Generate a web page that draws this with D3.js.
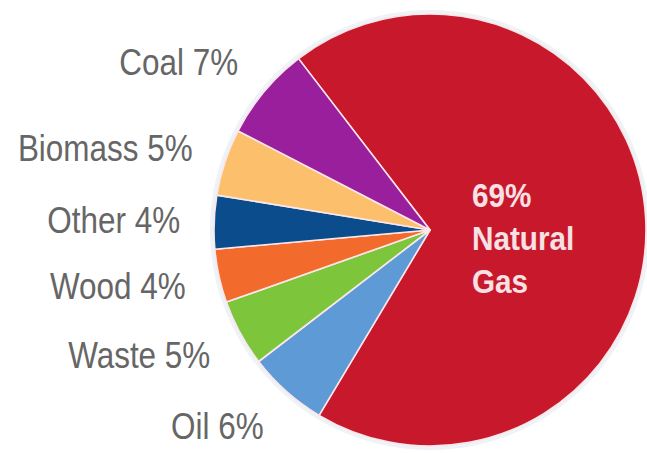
<!DOCTYPE html>
<html>
<head>
<meta charset="utf-8">
<script src="https://cdn.jsdelivr.net/npm/d3@7"></script>
<style>
  html, body { margin: 0; padding: 0; background: #ffffff; }
  svg { display: block; }
  .lbl { font-family: "Liberation Sans", Arial, "Noto Sans", sans-serif; }
</style>
</head>
<body>
<svg id="chart" width="647" height="453"></svg>
<script>
// Energy sources by share (%), listed clockwise starting with the largest slice
const categories = ["Natural Gas", "Oil", "Waste", "Wood", "Other", "Biomass", "Coal"];
const shares     = [69, 6, 5, 4, 4, 5, 7];
const colors     = ["#c8192c", "#5d9ad6", "#7dc63c", "#f26b2d", "#0b4d8c", "#fcbf6b", "#9a1f9c"];

const width = 647, height = 453;
const cx = 430, cy = 230, radius = 216;
const startDeg = -37.5;
const narrow = 0.85;   // horizontal condensing of the label type

const data = categories.map((c, i) => ({ category: c, share: shares[i], color: colors[i] }));

const svg = d3.select("#chart");
const g = svg.append("g").attr("transform", `translate(${cx},${cy})`);

const pie = d3.pie()
  .sort(null)
  .value(d => d.share)
  .startAngle(startDeg * Math.PI / 180)
  .endAngle(startDeg * Math.PI / 180 + 2 * Math.PI);

const arcs = pie(data);
const arc = d3.arc().innerRadius(0).outerRadius(radius);

// soft halo around the disc
g.append("circle")
  .attr("r", radius + 2)
  .attr("fill", "none")
  .attr("stroke", "#eef3f7")
  .attr("stroke-width", 4);

g.selectAll("path.slice")
  .data(arcs)
  .join("path")
  .attr("class", "slice")
  .attr("d", arc)
  .attr("fill", d => d.data.color)
  .attr("stroke", "#fbe6ea")
  .attr("stroke-width", 1.6)
  .attr("stroke-linejoin", "round");

// outside labels for the small slices, right-aligned on an elliptical guide
const labelRx = 250, labelRy = 262;
g.selectAll("g.outer")
  .data(arcs.slice(1))
  .join("g")
  .attr("class", "outer")
  .attr("transform", d => {
    const a = (d.startAngle + d.endAngle) / 2;
    return `translate(${labelRx * Math.sin(a)},${-labelRy * Math.cos(a)}) scale(${narrow},1)`;
  })
  .append("text")
  .attr("class", "lbl")
  .attr("dy", "0.35em")
  .attr("text-anchor", "end")
  .attr("font-size", 37)
  .attr("fill", "#666666")
  .text(d => `${d.data.category} ${d.data.share}%`);

// inside label for the dominant slice
const main = arcs[0];
const words = main.data.category.split(" ");
const inner = g.append("g")
  .attr("transform", `translate(42,-23) scale(0.9,1)`)
  .append("text")
  .attr("class", "lbl")
  .attr("font-size", 33)
  .attr("font-weight", "bold")
  .attr("fill", "#f7e1e4");
inner.append("tspan").attr("x", 0).attr("dy", 0).text(`${main.data.share}%`);
words.forEach(w => inner.append("tspan").attr("x", 0).attr("dy", 43).text(w));
</script>
</body>
</html>
